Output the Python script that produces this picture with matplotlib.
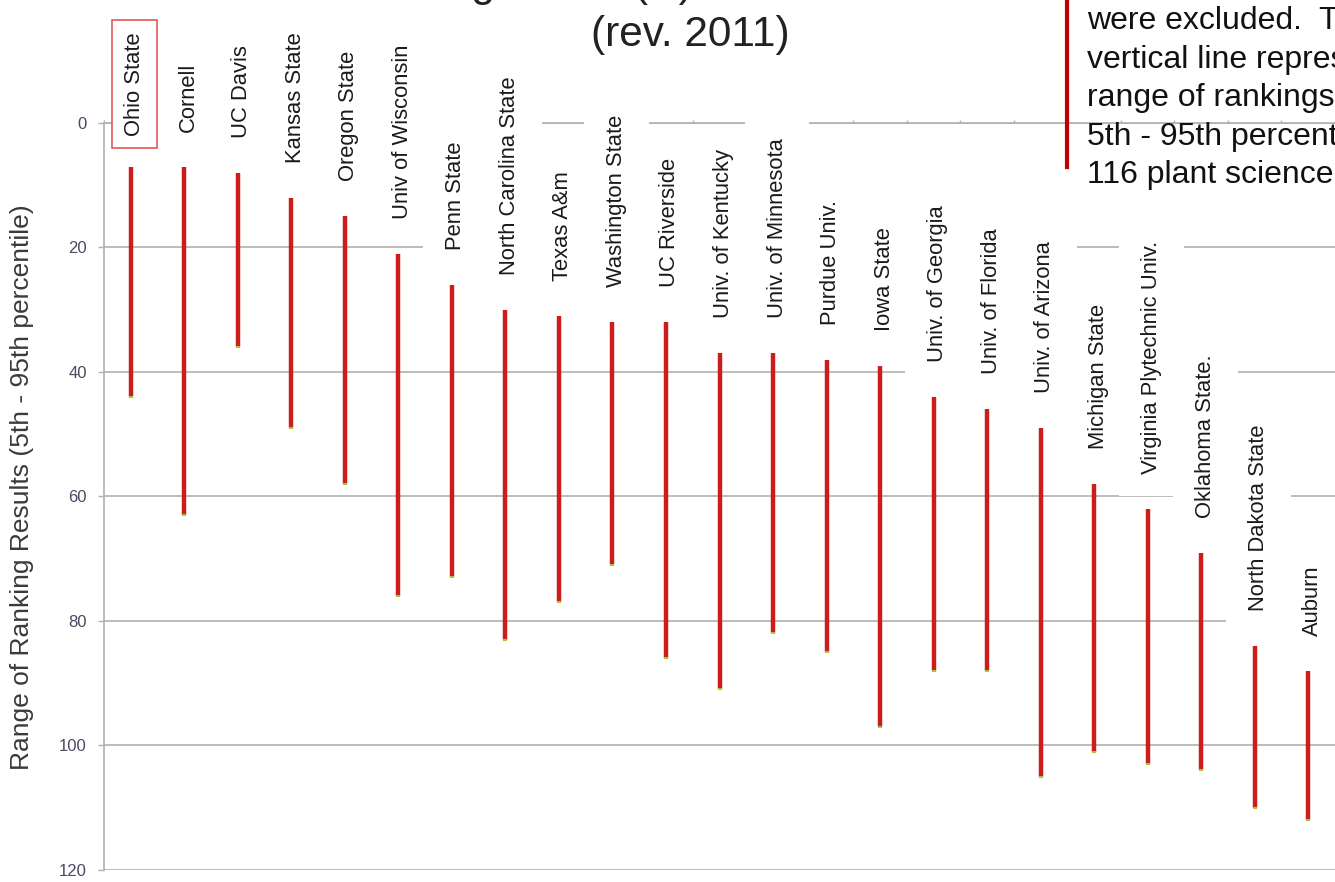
import numpy as np
import matplotlib
matplotlib.use("Agg")
import matplotlib.pyplot as plt
from matplotlib.lines import Line2D

# ---------------- data ----------------
schools = ["Ohio State", "Cornell", "UC Davis", "Kansas State", "Oregon State",
           "Univ of Wisconsin", "Penn State", "North Carolina State", "Texas A&m",
           "Washington State", "UC Riverside", "Univ. of Kentucky", "Univ. of Minnesota",
           "Purdue Univ.", "Iowa State", "Univ. of Georgia", "Univ. of Florida",
           "Univ. of Arizona", "Michigan State", "Virginia Plytechnic Univ.",
           "Oklahoma State.", "North Dakota State", "Auburn"]
rank_5th = [7, 7, 8, 12, 15, 21, 26, 30, 31, 32, 32, 37, 37, 38, 39, 44, 46, 49, 58, 62, 69, 84, 88]
rank_95th = [44, 63, 36, 49, 58, 76, 73, 83, 77, 71, 86, 91, 82, 85, 97, 88, 88, 105, 101, 103, 104, 110, 112]
yticks = [0, 20, 40, 60, 80, 100, 120]
title_line2 = "(rev. 2011)"
title_line1 = "Plant Science Rankings 2010 (R)"
note_lines = ["were excluded.  The", "vertical line represents the",
              "range of rankings (the", "5th - 95th percentile) among",
              "116 plant science programs"]
ylabel = "Range of Ranking Results (5th - 95th percentile)"

plt.rcParams['font.family'] = ["Liberation Sans", "DejaVu Sans"]

W, H = 1335, 882
fig = plt.figure(figsize=(W / 100, H / 100), dpi=100)
ax = fig.add_axes([104 / W, 1 - 870 / H, (W - 104) / W, (870 - 123) / H])

x = np.arange(len(schools))
ax.set_xlim(-0.5, len(schools) - 0.5)
ax.set_ylim(120, 0)

grid_col = "#b0b0b0"
ax.set_axisbelow(True)
ax.yaxis.grid(True, color=grid_col, lw=1.2)
ax.set_yticks(yticks)
ax.set_yticklabels([str(v) for v in yticks], fontsize=12, color="#4a4a60")
ax.tick_params(axis="y", length=4.5, width=1, color=grid_col, pad=8)

ax.xaxis.set_ticks_position("top")
ax.set_xticks(np.arange(-0.5, len(schools), 1))
ax.set_xticklabels([])
ax.tick_params(axis="x", length=2.5, width=1, color=grid_col, direction="out")

for s in ["right", "bottom"]:
    ax.spines[s].set_visible(False)
for s in ["top", "left"]:
    ax.spines[s].set_color(grid_col)
    ax.spines[s].set_linewidth(1.2)

# bars
ax.vlines(x, rank_5th, rank_95th, colors="#cc1c1c", lw=3.2, zorder=2, capstyle="butt")
ax.plot(x, rank_95th, ls="none", marker="_", ms=3.5, mew=1.5, color="#9acd32", zorder=3)

# labels above bars
for i, (name, top) in enumerate(zip(schools, rank_5th)):
    if i == 0:
        bb = dict(boxstyle="square,pad=0.55", fc="white", ec="#e05a5a", lw=1.2)
        z, off = 6, 31
    else:
        bb = dict(boxstyle="square,pad=1.0", fc="white", ec="none")
        z, off = 4, 35
    ax.annotate(name, xy=(i, top), xytext=(4, off), textcoords="offset pixels",
                rotation=90, ha="center", va="bottom", fontsize=15.8, color="#1a1a1a",
                annotation_clip=False, zorder=z, bbox=bb)

# y label
fig.text(22 / W, 1 - 487 / H, ylabel, rotation=90, ha="center", va="center",
         fontsize=19, color="#3a3a3a")

# titles
fig.text(690 / W, 1 - 35 / H, title_line2, ha="center", va="center",
         fontsize=30.5, color="#222222")
fig.text(693 / W, 1 + 4 / H, title_line1, ha="right", va="baseline",
         fontsize=30.5, color="#222222")

# note with red bar
fig.add_artist(Line2D([1067 / W, 1067 / W], [1.0, 1 - 167 / H], color="#c00000", lw=3.0))
for k, line in enumerate(note_lines):
    fig.text(1087 / W, 1 - (29 + 38.6 * k) / H, line, ha="left", va="baseline",
             fontsize=23, color="#111111")

fig.savefig("out.png", dpi=100)
